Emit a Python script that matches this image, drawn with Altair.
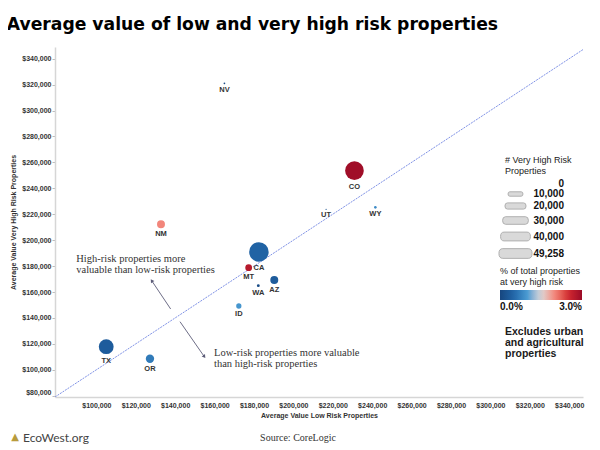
import math
import altair as alt
import pandas as pd

# ---------------- data ----------------
states = ["CA", "CO", "TX", "NM", "OR", "AZ", "MT", "ID", "WA", "WY", "NV", "UT"]
avg_low_risk = [182500, 231000, 105000, 132800, 127200, 190300, 177300, 172300, 182200, 241600, 165000, 216600]
avg_very_high_risk = [190900, 253600, 117800, 212200, 108500, 169300, 178800, 149200, 164900, 225300, 321000, 223800]
very_high_count = [49258, 45000, 28400, 8200, 9000, 8200, 6000, 3600, 1100, 900, 400, 200]
pct_very_high = [0.45, 2.95, 0.35, 2.0, 0.7, 0.35, 2.75, 0.95, 0.1, 0.85, 0.1, 0.2]

x_ticks = list(range(100000, 340001, 20000))
y_ticks = list(range(80000, 340001, 20000))
size_legend_values = [0, 10000, 20000, 30000, 40000, 49258]

annot_text = ["High-risk properties more\nvaluable than low-risk properties",
              "Low-risk properties more valuable\nthan high-risk properties"]
annot_x = [89800, 159700]
annot_y = [189300, 117000]

arrow_x = [137700, 142450]
arrow_y = [146900, 137100]
arrow_x2 = [128100, 154800]
arrow_y2 = [168700, 110100]

# ---------------- layout constants ----------------
X_DOMAIN = [79000, 347000]
Y_DOMAIN = [79000, 349000]
W, H = 528, 350
SIZE_MAX = 380
MAX_COUNT = 49258
y_per_px = (Y_DOMAIN[1] - Y_DOMAIN[0]) / H
x_per_px = (X_DOMAIN[1] - X_DOMAIN[0]) / W

df = pd.DataFrame({
    "state": states, "low": avg_low_risk, "high": avg_very_high_risk,
    "count": very_high_count, "pct": pct_very_high,
})

arrows = pd.DataFrame({"x": arrow_x, "y": arrow_y, "x2": arrow_x2, "y2": arrow_y2})
arrows["angle"] = [
    (math.degrees(math.atan2((x2 - x) / x_per_px, (y2 - y) / y_per_px)) + 360) % 360
    for x, y, x2, y2 in zip(arrow_x, arrow_y, arrow_x2, arrow_y2)
]
annots = pd.DataFrame({"t": annot_text, "x": annot_x, "y": annot_y})
diag = pd.DataFrame({"x": [Y_DOMAIN[0], Y_DOMAIN[1]], "y": [Y_DOMAIN[0], Y_DOMAIN[1]]})

xscale = alt.Scale(domain=X_DOMAIN, nice=False, zero=False)
yscale = alt.Scale(domain=Y_DOMAIN, nice=False, zero=False)
xaxis = alt.Axis(values=x_ticks, format="$,.0f", ticks=False, labelPadding=4,
                 titlePadding=3, labelOverlap=False, title="Average Value Low Risk Properties")
yaxis = alt.Axis(values=y_ticks, format="$,.0f", tickSize=3, tickColor="#bdbdbd",
                 labelPadding=1, titlePadding=5, labelFlush=3, labelOverlap=False,
                 title="Average Value Very High Risk Properties")


def X(field):
    return alt.X(field, scale=xscale, axis=xaxis)


def Y(field):
    return alt.Y(field, scale=yscale, axis=yaxis)


color_scale = alt.Scale(
    domain=[0, 0.5, 1.0, 1.5, 2.0, 2.5, 3.0],
    range=["#17467f", "#2166a8", "#4b9bd2", "#d9d9d9", "#f2867b", "#d2282f", "#9b0b27"],
    clamp=True,
)
size_scale = alt.Scale(domain=[0, MAX_COUNT], range=[0, SIZE_MAX])

# wide rounded legend bubble, like the stacked shapes of the original size legend
BUBBLE = ("M -1.3 -0.5 L 1.3 -0.5 Q 1.7 -0.5 1.7 0 Q 1.7 0.5 1.3 0.5 "
          "L -1.3 0.5 Q -1.7 0.5 -1.7 0 Q -1.7 -0.5 -1.3 -0.5 Z")

base = alt.Chart(df)

points = base.mark_circle(opacity=1).encode(
    x=X("low:Q"),
    y=Y("high:Q"),
    size=alt.Size("count:Q", scale=size_scale, legend=alt.Legend(
        title=["# Very High Risk", "Properties"], orient="none", legendX=450, legendY=109,
        values=size_legend_values, labelExpr="format(datum.value, ',')",
        symbolType=BUBBLE, symbolFillColor="#d9d9d9", symbolStrokeColor="#b0b0b0",
        symbolStrokeWidth=1, symbolOpacity=1, labelAlign="right", labelOffset=38,
        rowPadding=-1, titlePadding=3,
        titleFont="Liberation Sans", titleFontSize=9, titleFontWeight="normal", titleColor="#222",
        labelFont="Liberation Sans", labelFontSize=10, labelFontWeight="bold", labelColor="#111")),
    color=alt.Color("pct:Q", scale=color_scale, legend=alt.Legend(
        title=["% of total properties", "at very high risk"], orient="none", legendX=445, legendY=220,
        direction="horizontal", gradientLength=82, gradientThickness=10, values=[0, 3],
        labelExpr="format(datum.value, '.1f') + '%'", titlePadding=3,
        titleFont="Liberation Sans", titleFontSize=9, titleFontWeight="normal", titleColor="#222",
        labelFont="Liberation Sans", labelFontSize=10, labelFontWeight="bold", labelColor="#111")),
    order=alt.Order("count:Q", sort="descending"),
)

labels = base.transform_calculate(
    ylab=f"datum.high - (sqrt(datum.count / {MAX_COUNT} * {SIZE_MAX} / PI) + 5.5) * {y_per_px}"
).mark_text(font="Liberation Sans", fontSize=7.5, fontWeight="bold", color="#333",
            baseline="middle").encode(x=X("low:Q"), y=Y("ylab:Q"), text="state:N")

line = alt.Chart(diag).mark_line(color="#7f92e6", strokeWidth=1, strokeDash=[2, 1],
                                 clip=True).encode(x=X("x:Q"), y=Y("y:Q"))

arrow_lines = alt.Chart(arrows).mark_rule(color="#5c5c78", strokeWidth=0.9).encode(
    x=X("x:Q"), y=Y("y:Q"), x2="x2:Q", y2="y2:Q")
arrow_heads = alt.Chart(arrows).mark_point(shape="triangle-up", filled=True, size=16,
                                           color="#5c5c78", opacity=1).encode(
    x=X("x2:Q"), y=Y("y2:Q"), angle=alt.Angle("angle:Q", scale=None))

annot_layer = alt.Chart(annots).mark_text(font="Liberation Serif", fontSize=10.5, color="#333",
                                          align="left", baseline="top", lineBreak="\n",
                                          lineHeight=11).encode(
    x=X("x:Q"), y=Y("y:Q"), text="t:N")

note = alt.Chart(pd.DataFrame({"t": ["Excludes urban\nand agricultural\nproperties"]})).mark_text(
    font="Liberation Sans", fontSize=10.5, fontWeight="bold", color="#1a1a1a", align="left",
    baseline="top", lineBreak="\n", lineHeight=11).encode(
    x=alt.value(450), y=alt.value(280), text="t:N")

source = alt.Chart(pd.DataFrame({"t": ["Source: CoreLogic"]})).mark_text(
    font="Liberation Serif", fontSize=10, color="#333", align="center", baseline="middle").encode(
    x=alt.value(243), y=alt.value(391), text="t:N")

eco = alt.Chart(pd.DataFrame({"t": ["EcoWest.org"]})).mark_text(
    font="Lato", fontSize=12, color="#444", align="left", baseline="middle").encode(
    x=alt.value(-32), y=alt.value(391), text="t:N")

eco_icon = alt.Chart(pd.DataFrame({"t": ["▲"]})).mark_text(
    font="DejaVu Sans", fontSize=10, color="#b89b3c", align="center", baseline="middle").encode(
    x=alt.value(-40), y=alt.value(390), text="t:N")

chart = alt.layer(line, arrow_lines, arrow_heads, annot_layer, points, labels, note, source, eco,
                  eco_icon).properties(
    width=W, height=H,
    title=alt.TitleParams("Average value of low and very high risk properties", anchor="start",
                          font="DejaVu Sans", fontSize=17.2, fontWeight="bold", color="#000",
                          dx=-3, offset=0, baseline="alphabetic"),
    autosize=alt.AutoSizeParams(type="none"),
    padding={"left": 47, "top": 39, "right": 9, "bottom": 52},
).configure_view(stroke=None).configure_axis(
    labelFont="Liberation Sans", labelFontSize=7, labelFontWeight="bold", labelColor="#333",
    titleFont="Liberation Sans", titleFontSize=7, titleFontWeight="bold", titleColor="#333",
    grid=False, domainColor="#d6d6d6", domainWidth=1.5,
)

chart.save("out.html", embed_options={"renderer": "svg", "actions": False})
